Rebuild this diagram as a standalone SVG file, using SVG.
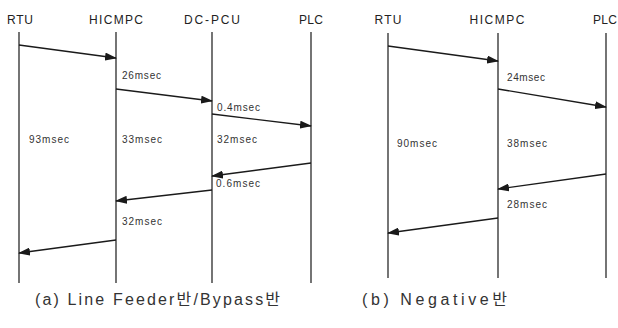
<svg xmlns="http://www.w3.org/2000/svg" width="618" height="328" viewBox="0 0 618 328">
<defs>
<marker id="ah" markerUnits="userSpaceOnUse" markerWidth="12" markerHeight="8" refX="11" refY="4" orient="auto">
<path d="M0,0 L12,4 L0,8 Z" fill="#1a1a1a"/>
</marker>
<style>
.life{stroke:#2a2a2a;stroke-width:1.3;fill:none}
.msg{stroke:#1a1a1a;stroke-width:1.3;fill:none;marker-end:url(#ah)}
.hd{font-family:"Liberation Sans",Arial,sans-serif;font-size:12px;fill:#222}
.lb{font-family:"Liberation Sans",Arial,sans-serif;font-size:10px;fill:#333}
.cap{font-family:"Liberation Sans Narrow","Liberation Sans","Noto Sans CJK KR",sans-serif;font-size:16px;fill:#333}
</style>
</defs>
<rect width="618" height="328" fill="#fff"/>

<g id="a-rtu"><text class="hd" x="20" y="24" text-anchor="middle" textLength="26">RTU</text><line class="life" x1="19" y1="32" x2="19" y2="283"/></g>
<g id="a-hicmpc"><text class="hd" x="116" y="24" text-anchor="middle" textLength="54">HICMPC</text><line class="life" x1="116" y1="32" x2="116" y2="283"/></g>
<g id="a-dcpcu"><text class="hd" x="212" y="24" text-anchor="middle" textLength="56">DC-PCU</text><line class="life" x1="212" y1="32" x2="212" y2="283"/></g>
<g id="a-plc"><text class="hd" x="311" y="24" text-anchor="middle" textLength="24">PLC</text><line class="life" x1="311" y1="32" x2="311" y2="283"/></g>

<g id="b-rtu"><text class="hd" x="388" y="24" text-anchor="middle" textLength="27">RTU</text><line class="life" x1="388" y1="33" x2="388" y2="278"/></g>
<g id="b-hicmpc"><text class="hd" x="497" y="24" text-anchor="middle" textLength="55">HICMPC</text><line class="life" x1="498" y1="33" x2="498" y2="278"/></g>
<g id="b-plc"><text class="hd" x="605" y="24" text-anchor="middle" textLength="24">PLC</text><line class="life" x1="606" y1="33" x2="606" y2="278"/></g>

<g id="connectors">
<line class="msg" x1="19" y1="45" x2="116" y2="58"/>
<line class="msg" x1="116" y1="89" x2="212" y2="101"/>
<line class="msg" x1="212" y1="114" x2="311" y2="126"/>
<line class="msg" x1="311" y1="163" x2="212" y2="176"/>
<line class="msg" x1="212" y1="190" x2="116" y2="201"/>
<line class="msg" x1="116" y1="240" x2="19" y2="253"/>
<line class="msg" x1="388" y1="46" x2="498" y2="61"/>
<line class="msg" x1="498" y1="89" x2="606" y2="107"/>
<line class="msg" x1="606" y1="174" x2="498" y2="189"/>
<line class="msg" x1="498" y1="218" x2="388" y2="233"/>
</g>

<g id="labels">
<text class="lb" x="122" y="79" textLength="39">26msec</text>
<text class="lb" x="217" y="111" textLength="43">0.4msec</text>
<text class="lb" x="29" y="143" textLength="40">93msec</text>
<text class="lb" x="122" y="143" textLength="40">33msec</text>
<text class="lb" x="217" y="143" textLength="40">32msec</text>
<text class="lb" x="216" y="187" textLength="44">0.6msec</text>
<text class="lb" x="122" y="225" textLength="40">32msec</text>
<text class="lb" x="507" y="81" textLength="38">24msec</text>
<text class="lb" x="397" y="147" textLength="40">90msec</text>
<text class="lb" x="507" y="147" textLength="40">38msec</text>
<text class="lb" x="507" y="208" textLength="40">28msec</text>
</g>

<text class="cap" x="35" y="305" textLength="245">(a) Line Feeder반/Bypass반</text>
<text class="cap" x="362" y="305" textLength="145">(b) Negative반</text>
</svg>
